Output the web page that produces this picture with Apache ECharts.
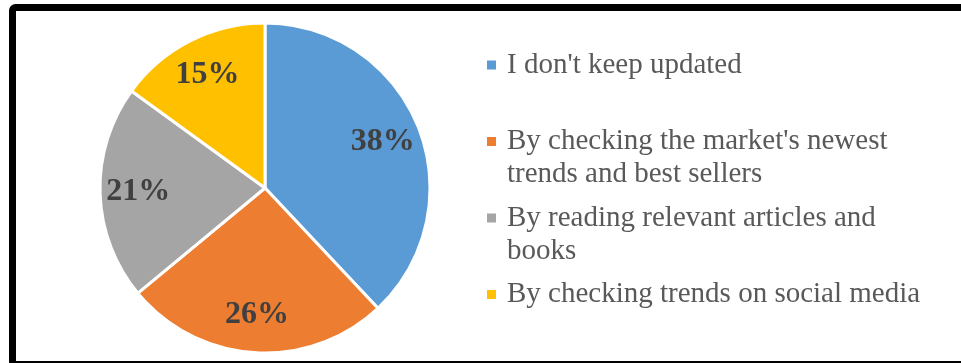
<!DOCTYPE html>
<html><head><meta charset="utf-8">
<script src="https://cdn.jsdelivr.net/npm/echarts@6/dist/echarts.min.js"></script>
<style>html,body{margin:0;padding:0;background:#fff}#c{width:961px;height:363px}</style>
</head><body><div id="c"></div>
<script>
var categories = ["I don't keep updated", "By checking the market's newest trends and best sellers", "By reading relevant articles and books", "By checking trends on social media"];
var values = [38, 26, 21, 15];
var colors = ['#5B9BD5', '#ED7D31', '#A5A5A5', '#FFC000'];

var LEGEND_FONT = '29px "Liberation Serif"';
var LEGEND_WIDTH = 425;
var ctx = document.createElement('canvas').getContext('2d');
ctx.font = LEGEND_FONT;
function legendText(name) {
  // single-line entries get an empty second line so every entry occupies the same slot
  return ctx.measureText(name).width <= LEGEND_WIDTH ? name + '\n\u00a0' : name;
}

var data = categories.map(function (n, i) { return { name: n, value: values[i], itemStyle: { color: colors[i] } }; });
var labelData = categories.map(function (n, i) { return { name: n, value: values[i] }; });

var chart = echarts.init(document.getElementById('c'));
chart.setOption({
  animation: false,
  backgroundColor: '#fff',
  graphic: [{
    type: 'rect', silent: true,
    shape: { x: 12.5, y: 7.5, width: 1000, height: 357, r: 3 },
    style: { fill: 'none', stroke: '#000', lineWidth: 7 }
  }],
  legend: {
    orient: 'vertical', left: 487, top: 48.5, padding: 0,
    itemGap: 10.5, itemWidth: 9, itemHeight: 42,
    icon: 'path://M0,0H9V9H0Z M0,41.99H0.01V42H0Z',
    itemStyle: { borderWidth: 0 },
    selectedMode: false,
    data: categories,
    formatter: legendText,
    textStyle: {
      fontFamily: 'Liberation Serif', fontSize: 29, color: '#595959',
      lineHeight: 33, width: LEGEND_WIDTH, overflow: 'break', padding: [0, 0, 0, 6]
    }
  },
  series: [{
    type: 'pie', center: [265, 188], radius: [0, 165], startAngle: 90, clockwise: true,
    silent: true, label: { show: false }, labelLine: { show: false },
    itemStyle: { borderColor: '#fff', borderWidth: 3 },
    data: data
  }, {
    type: 'pie', center: [265, 188], radius: [82.5, 165], startAngle: 90, clockwise: true,
    silent: true, labelLine: { show: false },
    itemStyle: { color: 'rgba(0,0,0,0)', borderWidth: 0 },
    label: {
      show: true, position: 'inside', formatter: '{c}%',
      fontFamily: 'Liberation Serif', fontWeight: 'bold', fontSize: 32, color: '#404040'
    },
    data: labelData
  }]
});
</script></body></html>
